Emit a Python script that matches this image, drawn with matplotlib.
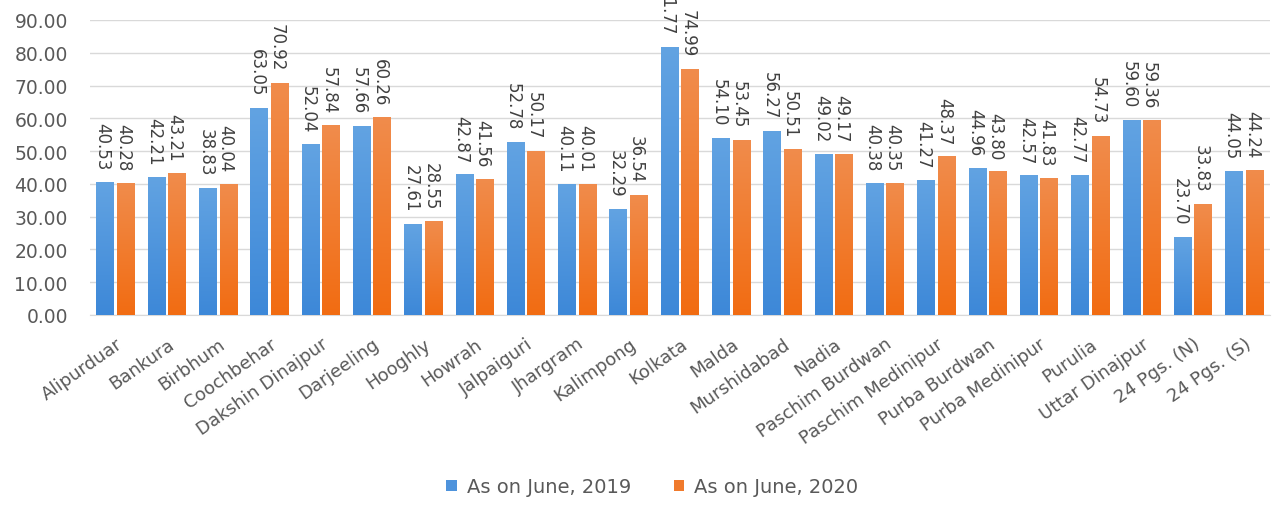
import numpy as np
import matplotlib.pyplot as plt
from matplotlib.colors import LinearSegmentedColormap

districts = ['Alipurduar', 'Bankura', 'Birbhum', 'Coochbehar', 'Dakshin Dinajpur',
             'Darjeeling', 'Hooghly', 'Howrah', 'Jalpaiguri', 'Jhargram', 'Kalimpong',
             'Kolkata', 'Malda', 'Murshidabad', 'Nadia', 'Paschim Burdwan',
             'Paschim Medinipur', 'Purba Burdwan', 'Purba Medinipur', 'Purulia',
             'Uttar Dinajpur', '24 Pgs. (N)', '24 Pgs. (S)']
june_2019 = [40.53, 42.21, 38.83, 63.05, 52.04, 57.66, 27.61, 42.87, 52.78, 40.11, 32.29,
             81.77, 54.10, 56.27, 49.02, 40.38, 41.27, 44.96, 42.57, 42.77, 59.60, 23.70, 44.05]
june_2020 = [40.28, 43.21, 40.04, 70.92, 57.84, 60.26, 28.55, 41.56, 50.17, 40.01, 36.54,
             74.99, 53.45, 50.51, 49.17, 40.35, 48.37, 43.80, 41.83, 54.73, 59.36, 33.83, 44.24]
series_names = ['As on June, 2019', 'As on June, 2020']
yticks = np.arange(0, 100, 10)

plt.rcParams['font.family'] = ['DejaVu Sans']
txt = '#595959'

fig = plt.figure(figsize=(12.84, 5.06), dpi=100)
ax = fig.add_axes([90 / 1284, 0.3755, 1180 / 1284, 0.583])

x = np.arange(len(districts))
w = 0.35
off = 0.2
b1 = ax.bar(x - off, june_2019, w, color='#4e93dc', label=series_names[0], zorder=3)
b2 = ax.bar(x + off, june_2020, w, color='#f07a2c', label=series_names[1], zorder=3)

# excel-style vertical gradient fill
grad = np.linspace(0, 1, 256).reshape(-1, 1)
cmaps = [LinearSegmentedColormap.from_list('b', ['#3d88d8', '#62a3e2']),
         LinearSegmentedColormap.from_list('o', ['#f26c12', '#f08c4c'])]
for bars, cm in zip((b1, b2), cmaps):
    for r in bars:
        r.set_facecolor('none')
        x0, y0 = r.get_x(), r.get_y()
        im = ax.imshow(grad, extent=[x0, x0 + r.get_width(), y0, y0 + r.get_height()],
                       origin='lower', aspect='auto', cmap=cm, zorder=3)
        im.set_clip_path(r)

for bars in (b1, b2):
    for r in bars:
        ax.annotate(f'{r.get_height():.2f}', (r.get_x() + r.get_width() / 2, r.get_height()),
                    xytext=(-2, 9), textcoords='offset points', rotation=270,
                    ha='center', va='bottom', fontsize=12, color='#404040',
                    annotation_clip=False)

ax.set_xlim(-0.5, len(districts) - 0.5)
ax.set_ylim(0, 90)
ax.set_yticks(yticks)
ax.set_yticklabels([f'{v:.2f}' for v in yticks], fontsize=13.5, color=txt)
ax.set_xticks(x)
ax.set_xticklabels(districts, rotation=35, ha='right', va='top', rotation_mode='anchor',
                   fontsize=13, color=txt)
ax.tick_params(axis='y', length=0, pad=16)
ax.tick_params(axis='x', length=0, pad=14)
ax.grid(axis='y', color='#d9d9d9', linewidth=1, zorder=0)
for s in ['top', 'right', 'left']:
    ax.spines[s].set_visible(False)
ax.spines['bottom'].set_color('#d9d9d9')

fig.legend(handles=[b1, b2], labels=series_names, loc='center', bbox_to_anchor=(0.508, 0.036),
           ncol=2, frameon=False, fontsize=14, handlelength=0.55, handleheight=0.55,
           handletextpad=0.5, columnspacing=2.2, labelcolor=txt)
for h, c in zip(fig.legends[0].legend_handles, ['#4e93dc', '#f07a2c']):
    h.set_facecolor(c)

fig.savefig('out.png', dpi=100)
